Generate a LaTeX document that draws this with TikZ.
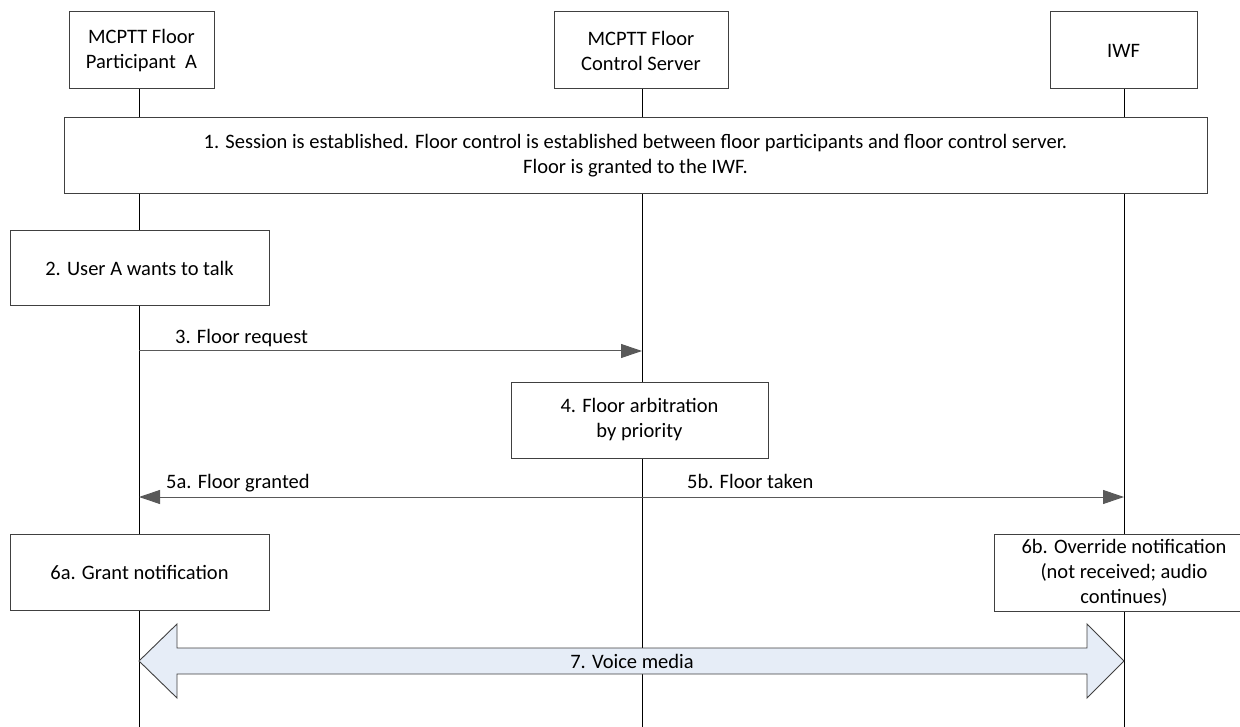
\documentclass[tikz,border=0pt]{standalone}
\usepackage{fontspec}
\setmainfont{Carlito}
\usetikzlibrary{arrows.meta}
\definecolor{edge}{HTML}{404040}
\definecolor{msgc}{HTML}{595959}
\definecolor{media}{HTML}{E6EDF7}
\begin{document}
\begin{tikzpicture}[x=1pt,y=-1pt,
  every node/.style={font=\fontsize{20.5}{25}\selectfont, inner sep=0pt},
  entity/.style={draw=edge, line width=1pt, fill=white, align=center},
  stepbox/.style={draw=edge, line width=1pt, fill=white, align=center},
  lifeline/.style={draw=black, line width=0.9pt},
  msg/.style={draw=msgc, line width=1pt, -{Triangle[length=21pt,width=14pt]}, color=msgc},
  lbl/.style={anchor=base west, text=black}]
\useasboundingbox (0,0) rectangle (1240,727);
% lifelines
\coordinate (Abot) at (139,727);
\coordinate (Sbot) at (642,727);
\coordinate (Ibot) at (1124,727);
\node[entity, minimum width=145, minimum height=77] (A) at (141.5,50.5) {MCPTT Floor\\Participant\ \ A};
\node[entity, minimum width=174, minimum height=77] (S) at (641,50.5) {MCPTT Floor\\Control Server};
\node[entity, minimum width=147, minimum height=77] (I) at (1123.5,50.5) {IWF};
\draw[lifeline] (A.south -| Abot) -- (Abot);
\draw[lifeline] (S.south -| Sbot) -- (Sbot);
\draw[lifeline] (I.south -| Ibot) -- (Ibot);
% boxes
\node[stepbox, minimum width=1143, minimum height=76] (b1) at (635.5,156) {1. Session is established. Floor control is established between floor participants and floor control server.\\Floor is granted to the IWF.};
\node[stepbox, minimum width=259, minimum height=75] (b2) at (139.5,268.5) {2. User A wants to talk};
\node[stepbox, minimum width=257, minimum height=76] (b4) at (639.5,420) {4. Floor arbitration\\by priority};
\node[stepbox, minimum width=259, minimum height=76] (b6a) at (139.5,572) {6a. Grant notification};
\node[stepbox, minimum width=260, minimum height=77] (b6b) at (1124,572.5) {6b. Override notification\\(not received; audio\\continues)};
% messages
\coordinate (m3a) at (139,351);
\coordinate (m3b) at (642,351);
\draw[msg] (m3a) -- (m3b);
\node[lbl] (l3) at (175,344) {3. Floor request};
\coordinate (m5s) at (642,497);
\coordinate (m5a) at (139,497);
\coordinate (m5b) at (1124,497);
\draw[msg] (m5s) -- (m5a);
\draw[msg] (m5s) -- (m5b);
\node[lbl] (l5a) at (166,488) {5a. Floor granted};
\node[lbl] (l5b) at (687,488) {5b. Floor taken};
% voice media
\coordinate (vL) at (139,661);
\coordinate (vR) at (1124,661);
\draw[draw=edge, line width=0.9pt, fill=media]
  (vL) -- (177,624) -- (177,648) -- (1087,648) -- (1087,624) -- (vR)
  -- (1087,698) -- (1087,674) -- (177,674) -- (177,698) -- cycle;
\node (l7) at (632,661) {7. Voice media};
\end{tikzpicture}
\end{document}
